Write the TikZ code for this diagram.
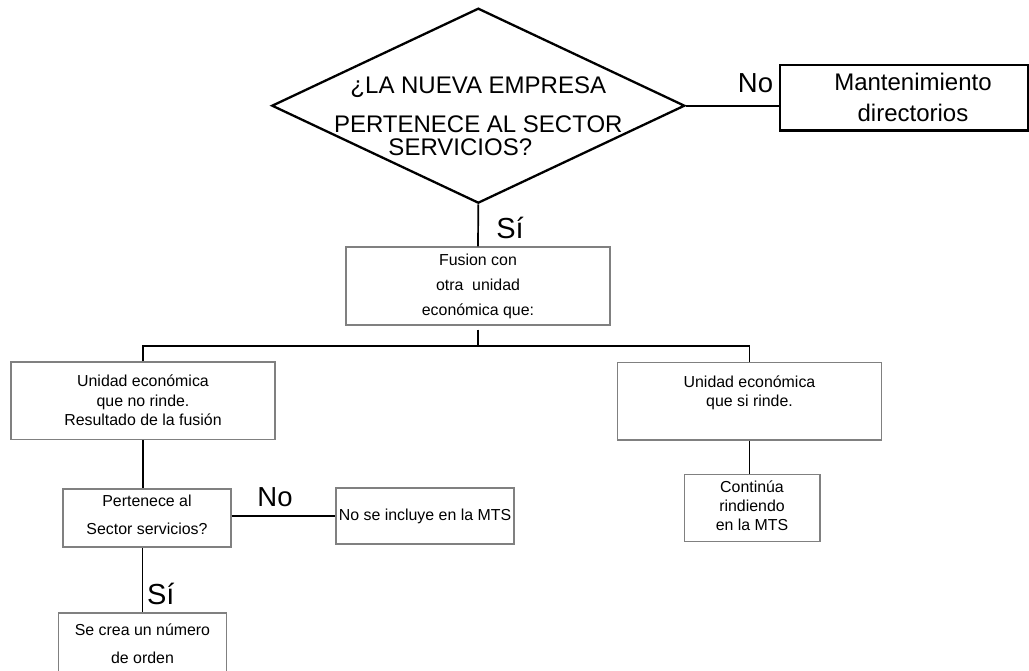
\documentclass[tikz,border=0pt]{standalone}
\usepackage{fontspec}
\setmainfont{Liberation Sans}
\usetikzlibrary{shapes.geometric}

\begin{document}
\begin{tikzpicture}[x=1pt,y=-1pt,
	decision/.style={diamond,draw,line width=2.3pt,inner sep=0pt,minimum width=413pt,minimum height=195pt},
	bigbox/.style={rectangle,draw,line width=2.3pt,inner sep=0pt,align=center,font=\fontsize{24}{31}\selectfont},
	smallbox/.style={rectangle,draw=gray,line width=1.3pt,inner sep=0pt,align=center},
	link/.style={line width=1.7pt},
	answer/.style={font=\fontsize{27.5}{30}\selectfont}]
		\useasboundingbox (0,0) rectangle (1029,671);
		% pregunta principal
		\node[decision,label={[align=center,font=\fontsize{24}{23}\selectfont,yshift=-11pt]center:{¿LA NUEVA EMPRESA\\[16pt]PERTENECE AL SECTOR\hspace*{13pt}\\SERVICIOS?\hspace*{36pt}}}] (q) at (478.3,105.7) {};
		\node[bigbox,minimum width=248pt,minimum height=65.5pt] (mant) at (904,97.8) {\hspace*{18pt}Mantenimiento\\\hspace*{18pt}directorios};
		\node[smallbox,minimum width=264pt,minimum height=78pt,font=\fontsize{15.9}{25}\selectfont] (fus) at (478,286) {Fusion con\\otra\ \ unidad\\económica que:};
		\node[smallbox,minimum width=264pt,minimum height=77.5pt,font=\fontsize{15.9}{19.5}\selectfont] (noRinde) at (143,400.7) {Unidad económica\\que no rinde.\\Resultado de la fusión};
		\node[smallbox,minimum width=264.4pt,minimum height=77.7pt,font=\fontsize{15.9}{19.5}\selectfont] (siRinde) at (749.5,401) {Unidad económica\\que si rinde.\\\mbox{}};
		\node[smallbox,minimum width=168pt,minimum height=58pt,font=\fontsize{15.9}{28}\selectfont,text depth=7.5pt] (pert) at (147,518) {Pertenece al\\Sector servicios?};
		\node[smallbox,minimum width=178pt,minimum height=56pt,font=\fontsize{15.9}{19}\selectfont] (noInc) at (425,516) {No se incluye en la MTS};
		\node[smallbox,minimum width=168.4pt,minimum height=62pt,font=\fontsize{15.9}{28}\selectfont] (crea) at (142.5,644) {Se crea un número\\de orden};
		\node[smallbox,minimum width=135.7pt,minimum height=67.4pt,font=\fontsize{15.9}{19}\selectfont,text depth=4pt] (cont) at (752,508) {Continúa\\rindiendo\\en la MTS};
		\coordinate (split) at (478,345.7);
		% conectores
		\draw[link] (q.east) -- (q.east -| mant.west);
		\draw[link] (q.south) -- (fus.north);
		\draw[link,shorten <=4pt] (fus.south) -- (split);
		\draw[link] (noRinde.north) |- (split) -| (siRinde.north);
		\draw[link] (noRinde.south) -- (noRinde.south |- pert.north);
		\draw[line width=1.4pt] (pert.east |- noInc.west) -- (noInc.west);
		\draw[link] (crea.north |- pert.south) -- (crea.north);
		\draw[link] (siRinde.south) -- (siRinde.south |- cont.north);
		% respuestas
		\node[answer] (noTop) at (755.5,83) {No};
		\node[answer,font=\fontsize{29}{30}\selectfont] (siTop) at (510,227.5) {Sí};
		\node[answer] (noLow) at (275,496.7) {No};
		\node[answer,font=\fontsize{29}{30}\selectfont] (siLow) at (160.8,594) {Sí};
		\end{tikzpicture}
\end{document}
